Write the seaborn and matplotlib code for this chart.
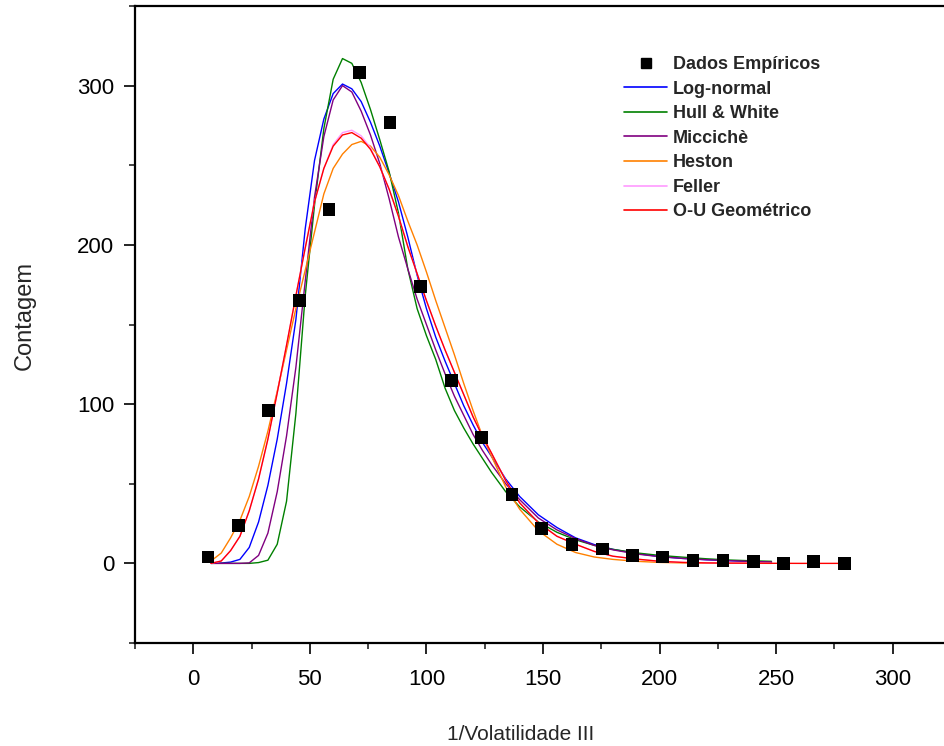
import matplotlib
matplotlib.use("Agg")
import matplotlib.pyplot as plt
import seaborn as sns
import pandas as pd
from matplotlib.ticker import MultipleLocator
from matplotlib.lines import Line2D

# Empirical histogram counts
bin_centers = [6.3, 19.3, 32.3, 45.5, 58.2, 71.4, 84.4, 97.4, 110.6, 123.6, 136.7,
               149.5, 162.4, 175.5, 188.5, 201.4, 214.3, 227.2, 240.2, 253.1, 266.1, 279.2]
counts = [4, 24, 96, 165, 222, 308, 277, 174, 115, 79, 43,
          22, 12, 9, 5, 4, 2, 2, 1, 0, 1, 0]

# Fitted densities (scaled to counts)
x_fit = [7.6, 12, 16, 20, 24, 28, 32, 36, 40, 44, 48, 52, 56, 60, 64, 68, 72, 76, 80, 84,
         88, 92, 96, 100, 104, 108, 112, 116, 120, 124, 128, 134, 140, 148, 156, 164, 172,
         180, 190, 200, 210, 220, 230, 240, 248]
lognormal = [0, 0.2, 0.8, 2.5, 10, 26, 49, 78, 113, 153, 210, 253, 279, 295, 301, 298, 290,
             277, 262, 245, 227, 205, 181, 160, 142, 127, 113, 99, 87, 76, 67, 53, 42, 30.5,
             22.5, 16, 11.8, 8.8, 6.2, 4.3, 3.1, 2.3, 1.7, 1.1, 0.6]
hull_white = [0, 0, 0, 0, 0, 0.5, 2, 12, 39, 94, 168, 225, 273, 304, 317, 314, 302, 285, 266,
              246, 220, 185, 160, 143, 128, 110, 96, 85, 75, 66, 57, 45, 35.5, 26, 19.5, 14.8,
              11.3, 8.8, 6.6, 5, 3.9, 2.9, 2.1, 1.6, 1.3]
micciche = [0, 0, 0, 0, 0.3, 5, 19, 45, 80, 123, 177, 230, 268, 291, 300, 296, 284, 269, 251,
            229, 205, 185, 166, 150, 134, 119, 105, 93, 81, 71, 62, 50, 40, 28.5, 21, 15.5,
            11.3, 8.5, 5.9, 4.2, 3.1, 2.3, 1.7, 1.2, 0.9]
heston = [1.5, 6.5, 16, 27, 42, 61, 83, 108, 134, 160, 184, 208, 232, 248, 257, 263, 265, 262,
          255, 244, 231, 215, 200, 183, 165, 148, 131, 113, 96, 80, 67, 48, 34, 20.5, 12, 6.8,
          4, 2.5, 1.3, 0.6, 0.3, 0.15, 0.1, 0.05, 0]
feller = [0, 1.5, 8, 17, 33, 53, 78, 107, 137, 168, 198, 227, 248, 263, 270.5, 272, 268.5, 261,
          249, 235, 218, 199, 182, 165, 149, 134, 120, 106, 92, 80, 69, 52, 38, 25.5, 17, 12,
          7.5, 4.5, 2.7, 1.3, 0.6, 0.3, 0.15, 0.1, 0.05]
x_ou = x_fit + [260, 280]
ou_geom = [0, 1.5, 8, 17, 33, 53, 78, 107, 137, 168, 198, 227, 248, 262, 269, 270.5, 267, 260,
           249, 235, 218, 199, 182, 165, 149, 134, 120, 106, 92, 80, 69, 52, 38, 25.5, 17, 12,
           7.5, 4.5, 2.7, 1.3, 0.6, 0.3, 0.15, 0.1, 0.05, 0, 0]

labels = ["Log-normal", "Hull & White", "Miccichè", "Heston", "Feller", "O-U Geométrico"]
colors = ["#0000ff", "#008000", "#800080", "#ff8000", "#ff99ff", "#ff0000"]

sns.set_style("ticks")
plt.rcParams["font.family"] = ["Liberation Sans", "DejaVu Sans"]

fig = plt.figure(figsize=(9.44, 7.46), dpi=100)
ax = fig.add_axes([135 / 944, 103 / 746, 816 / 944, 637 / 746])

series = [(x_fit, lognormal), (x_fit, hull_white), (x_fit, micciche),
          (x_fit, heston), (x_fit, feller), (x_ou, ou_geom)]
for (xs, ys), col in zip(series, colors):
    df = pd.DataFrame({"x": xs, "y": ys})
    sns.lineplot(data=df, x="x", y="y", ax=ax, color=col, lw=1.0,
                 estimator=None, sort=False, zorder=2)

emp = pd.DataFrame({"x": bin_centers, "y": counts})
sns.scatterplot(data=emp, x="x", y="y", ax=ax, marker="s", s=85, color="black",
                edgecolor="none", zorder=3)

ax.set_xlim(-25, 325)
ax.set_ylim(-50, 350)
ax.xaxis.set_major_locator(MultipleLocator(50))
ax.xaxis.set_minor_locator(MultipleLocator(25))
ax.yaxis.set_major_locator(MultipleLocator(100))
ax.yaxis.set_minor_locator(MultipleLocator(50))

for side in ["left", "bottom", "top"]:
    ax.spines[side].set_linewidth(1.6)
    ax.spines[side].set_color("black")
ax.spines["right"].set_visible(False)

ax.tick_params(axis="both", which="major", direction="out", length=8, width=1.2,
               labelsize=16, colors="black")
ax.tick_params(axis="both", which="minor", direction="out", length=4, width=1.2)
ax.tick_params(axis="x", which="major", pad=11)
ax.tick_params(axis="y", which="major", pad=7)

ax.set_xlabel("1/Volatilidade III", fontsize=15)
ax.xaxis.set_label_coords((521 - 135) / 816, -(735 - 643) / 637)
ax.xaxis.label.set_va("center")
ax.set_ylabel("Contagem", fontsize=17)
ax.yaxis.set_label_coords(-(135 - 25) / 816, (643 - 316) / 637)
ax.yaxis.label.set_va("center")

handles = [Line2D([], [], ls="none", marker="s", ms=7.5, color="black")]
handles += [Line2D([], [], color=c, lw=1.2) for c in colors]
fig.legend(handles, ["Dados Empíricos"] + labels, loc="upper left",
           bbox_to_anchor=(624 / 944, 1 - 56 / 746), frameon=False,
           prop={"weight": "bold", "size": 13}, handlelength=2.4,
           handletextpad=0.3, labelspacing=0.42, borderpad=0, borderaxespad=0)

fig.savefig("out.png", dpi=100)
